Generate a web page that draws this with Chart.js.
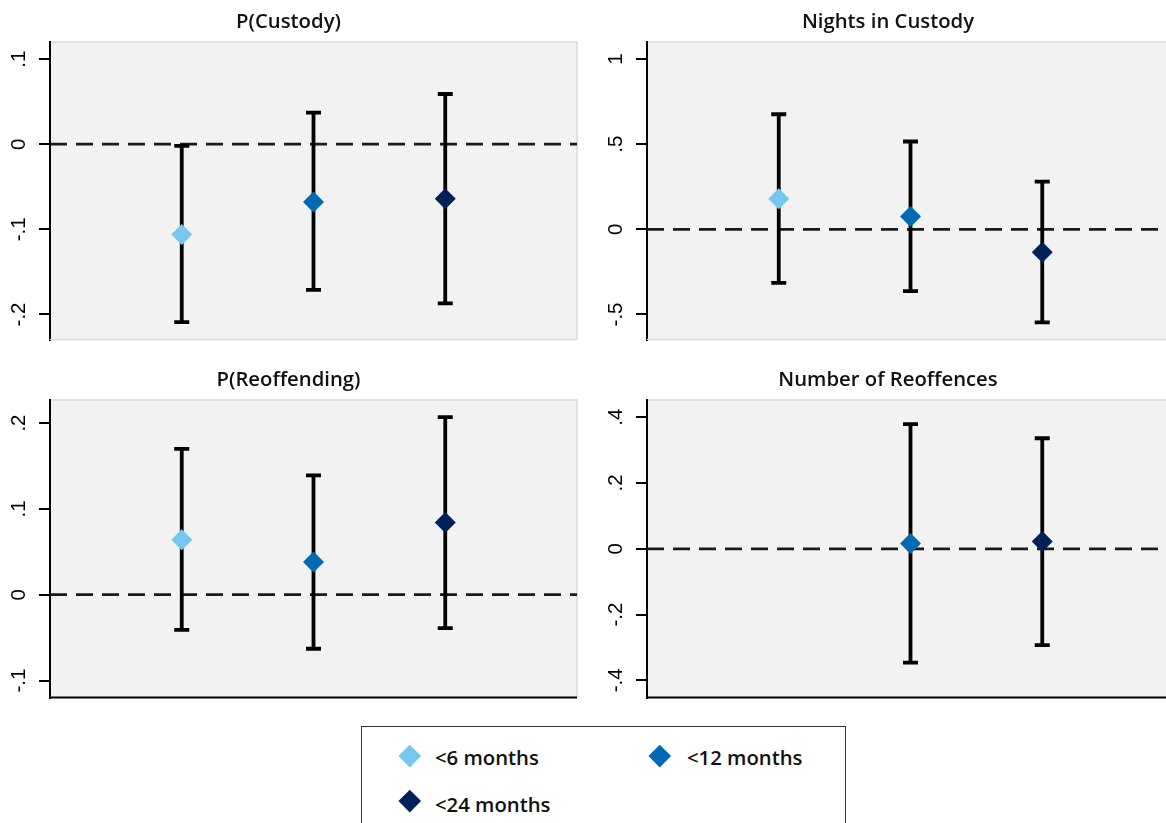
<!DOCTYPE html>
<html>
<head>
<meta charset="utf-8">
<script src="https://cdn.jsdelivr.net/npm/chart.js@4.4.1/dist/chart.umd.min.js"></script>
<style>
  html, body { margin:0; padding:0; background:#fff; width:1166px; height:823px; overflow:hidden; }
  #wrap { position:relative; width:1166px; height:823px; overflow:hidden; }
  .panel { position:absolute; }
  #legend { position:absolute; left:361px; top:726px; width:485px; height:140px; border:1px solid #333; box-sizing:border-box; }
  .lg-item { position:absolute; font-family:"Open Sans", sans-serif; font-weight:600; font-size:20.3px; line-height:20px; color:#111; white-space:nowrap; }
  .lg-mark { position:absolute; width:15.5px; height:15.5px; transform:rotate(45deg); }
</style>
</head>
<body>
<div id="wrap">
<div class="panel" style="left:0px;top:0px;"><canvas id="c1" width="578" height="342"></canvas></div>
<div class="panel" style="left:602px;top:0px;"><canvas id="c2" width="573" height="342"></canvas></div>
<div class="panel" style="left:0px;top:358px;"><canvas id="c3" width="578" height="342"></canvas></div>
<div class="panel" style="left:602px;top:358px;"><canvas id="c4" width="573" height="342"></canvas></div>
<div id="legend"></div>
</div>
<script>
// ---------------- DATA ----------------
const categories = ['<6 months', '<12 months', '<24 months'];
const seriesColors = ['#75c7f0', '#0069b4', '#002157'];

const panelTitles = ['P(Custody)', 'Nights in Custody', 'P(Reoffending)', 'Number of Reoffences'];

const custodyEst = [-0.106, -0.068, -0.064];
const custodyLo  = [-0.209, -0.171, -0.187];
const custodyHi  = [-0.002,  0.037,  0.059];

const nightsEst = [ 0.180,  0.075, -0.135];
const nightsLo  = [-0.314, -0.363, -0.547];
const nightsHi  = [ 0.676,  0.516,  0.280];

const reoffEst = [ 0.064,  0.038,  0.084];
const reoffLo  = [-0.041, -0.063, -0.039];
const reoffHi  = [ 0.170,  0.139,  0.207];

const numEst = [null,  0.016,  0.022];
const numLo  = [null, -0.346, -0.293];
const numHi  = [null,  0.379,  0.336];

const custodyTicks = [-0.2, -0.1, 0, 0.1];
const custodyTickLabels = ['-.2', '-.1', '0', '.1'];
const nightsTicks = [-0.5, 0, 0.5, 1];
const nightsTickLabels = ['-.5', '0', '.5', '1'];
const reoffTicks = [-0.1, 0, 0.1, 0.2];
const reoffTickLabels = ['-.1', '0', '.1', '.2'];
const numTicks = [-0.4, -0.2, 0, 0.2, 0.4];
const numTickLabels = ['-.4', '-.2', '0', '.2', '.4'];

// ---------------- PLUGINS ----------------
const panelBg = {
  id: 'panelBg',
  beforeDraw(chart, args, opts) {
    const a = chart.chartArea, ctx = chart.ctx;
    ctx.save();
    ctx.fillStyle = '#f2f2f2';
    ctx.fillRect(a.left, a.top, a.right - a.left, a.bottom - a.top);
    ctx.strokeStyle = '#d9d9d9';
    ctx.lineWidth = 1.5;
    ctx.beginPath();
    ctx.moveTo(a.left, a.top);
    ctx.lineTo(a.right, a.top);
    ctx.lineTo(a.right, a.bottom);
    ctx.stroke();
    ctx.restore();
  },
  afterDraw(chart, args, opts) {
    const a = chart.chartArea, ctx = chart.ctx;
    ctx.save();
    ctx.strokeStyle = opts.bottomColor;
    ctx.lineWidth = opts.bottomColor === '#000' ? 2 : 1.5;
    ctx.beginPath();
    ctx.moveTo(a.left, a.bottom);
    ctx.lineTo(a.right, a.bottom);
    ctx.stroke();
    ctx.restore();
  }
};

const rotatedTicks = {
  id: 'rotatedTicks',
  afterDraw(chart, args, opts) {
    const s = chart.scales.y, ctx = chart.ctx;
    ctx.save();
    ctx.font = '20.5px "Liberation Sans", Arial, sans-serif';
    ctx.fillStyle = '#000';
    ctx.textAlign = 'center';
    ctx.textBaseline = 'alphabetic';
    opts.values.forEach((v, i) => {
      const y = s.getPixelForValue(v);
      ctx.save();
      ctx.translate(s.right - 25, y);
      ctx.rotate(-Math.PI / 2);
      ctx.fillText(opts.labels[i], 0, 0);
      ctx.restore();
    });
    ctx.restore();
  }
};

function makeChart(id, title, est, lo, hi, ticks, tickLabels, yMin, yMax, yWidth, bottomColor) {
  const datasets = [];
  datasets.push({
    data: [{x: 0, y: 0}, {x: 4, y: 0}],
    showLine: true, borderColor: '#1a1a1a', borderWidth: 2.8, borderDash: [17, 9],
    pointRadius: 0, order: 3
  });
  categories.forEach((c, i) => {
    if (est[i] === null) return;
    datasets.push({
      data: [{x: i + 1, y: lo[i]}, {x: i + 1, y: hi[i]}],
      showLine: true, borderColor: '#000', borderWidth: 3.8,
      pointStyle: 'line', pointRadius: 7.5, pointBorderWidth: 3.8, pointBorderColor: '#000',
      order: 2
    });
  });
  categories.forEach((c, i) => {
    if (est[i] === null) return;
    datasets.push({
      label: c,
      data: [{x: i + 1, y: est[i]}],
      pointStyle: 'rectRot', pointRadius: 10.5, pointBorderWidth: 0,
      pointBackgroundColor: seriesColors[i], backgroundColor: seriesColors[i], borderColor: seriesColors[i],
      order: 1
    });
  });
  return new Chart(document.getElementById(id), {
    type: 'scatter',
    data: { datasets },
    options: {
      responsive: false,
      animation: false,
      events: [],
      layout: { autoPadding: false, padding: { left: 0, right: 1, top: 0, bottom: 2.5 } },
      plugins: {
        legend: { display: false },
        tooltip: { enabled: false },
        title: {
          display: true, text: title, color: '#111',
          font: { family: '"Open Sans", sans-serif', size: 20.3, weight: '600', lineHeight: 1.2 },
          padding: { top: 10.5, bottom: 7.2 }
        },
        panelBg: { bottomColor: bottomColor },
        rotatedTicks: { values: ticks, labels: tickLabels }
      },
      scales: {
        x: {
          type: 'linear', min: 0, max: 4, display: false
        },
        y: {
          type: 'linear', min: yMin, max: yMax,
          afterBuildTicks(scale) { scale.ticks = ticks.map(v => ({ value: v })); },
          ticks: { display: false },
          grid: { display: true, drawOnChartArea: false, drawTicks: true, tickLength: 11, color: '#000', lineWidth: 2 },
          border: { display: true, color: '#000', width: 2 },
          afterFit(scale) { scale.width = yWidth; }
        }
      }
    },
    plugins: [panelBg, rotatedTicks]
  });
}

function buildLegend() {
  const lg = document.getElementById('legend');
  const slots = [
    { mx: 410, my: 756, tx: 435, ty: 747 },
    { mx: 660, my: 756, tx: 687, ty: 747 },
    { mx: 410, my: 801, tx: 435, ty: 794 }
  ];
  categories.forEach((c, i) => {
    const s = slots[i];
    const m = document.createElement('div');
    m.className = 'lg-mark';
    m.style.background = seriesColors[i];
    m.style.left = (s.mx - 361 - 1 - 7.75) + 'px';
    m.style.top = (s.my - 726 - 1 - 7.75) + 'px';
    lg.appendChild(m);
    const t = document.createElement('div');
    t.className = 'lg-item';
    t.textContent = c;
    t.style.left = (s.tx - 361 - 1) + 'px';
    t.style.top = (s.ty - 726 - 1) + 'px';
    lg.appendChild(t);
  });
}

function init() {
  makeChart('c1', panelTitles[0], custodyEst, custodyLo, custodyHi, custodyTicks, custodyTickLabels, -0.2294, 0.12, 50, '#d9d9d9');
  makeChart('c2', panelTitles[1], nightsEst, nightsLo, nightsHi, nightsTicks, nightsTickLabels, -0.647, 1.1, 45, '#d9d9d9');
  makeChart('c3', panelTitles[2], reoffEst, reoffLo, reoffHi, reoffTicks, reoffTickLabels, -0.1198, 0.2268, 50, '#000');
  makeChart('c4', panelTitles[3], numEst, numLo, numHi, numTicks, numTickLabels, -0.452, 0.452, 45, '#000');
  buildLegend();
}

const fontLoads = [
  document.fonts.load('600 20px "Open Sans"'),
  document.fonts.load('20px "Liberation Sans"')
];
Promise.all(fontLoads).then(init, init);
</script>
</body>
</html>
